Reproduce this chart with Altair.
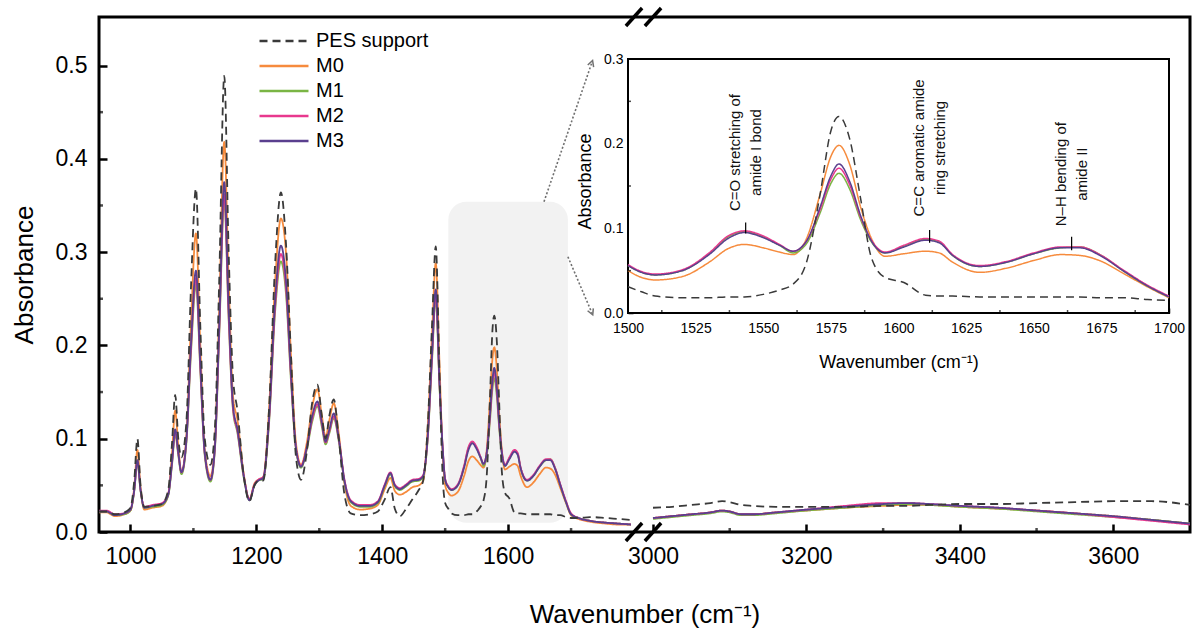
import altair as alt
import pandas as pd

FONT = "Liberation Sans"

SERIES = ["PES support", "M0", "M1", "M2", "M3"]
SERIES_COLORS = ["#3a3a3a", "#f68b3d", "#7ab544", "#e8388e", "#5a3f8e"]
SERIES_DASH = [[8, 5], [1, 0], [1, 0], [1, 0], [1, 0]]
DRAW_ORDER = ["M0", "M1", "M2", "M3", "PES support"]

# ---- left panel (950-1800 cm-1) ----
L_WN = [950, 962, 975, 990, 1000, 1006, 1011, 1016, 1022, 1035,
        1050, 1060, 1066, 1071, 1076, 1081, 1089, 1096, 1104, 1111,
        1118, 1127, 1134, 1141, 1149, 1156, 1163, 1170, 1180, 1189,
        1197, 1203, 1211, 1220, 1230, 1239, 1247, 1255, 1263, 1271,
        1280, 1289, 1297, 1304, 1310, 1316, 1323, 1331, 1340, 1350,
        1365, 1380, 1393, 1404, 1413, 1420, 1428, 1438, 1448, 1458,
        1465, 1472, 1479, 1485, 1491, 1496, 1500, 1505, 1510, 1520,
        1530, 1537, 1543, 1550, 1556, 1561, 1566, 1571, 1575, 1578,
        1582, 1586, 1590, 1595, 1602, 1610, 1615, 1620, 1630, 1640,
        1650, 1660, 1667, 1675, 1683, 1692, 1700, 1712, 1730, 1755,
        1775, 1795]

M3_L = [0.022, 0.022, 0.018, 0.020, 0.024, 0.045, 0.077, 0.045, 0.026, 0.028,
        0.030, 0.040, 0.075, 0.110, 0.085, 0.064, 0.100, 0.200, 0.280, 0.180,
        0.085, 0.056, 0.090, 0.220, 0.375, 0.240, 0.135, 0.110, 0.060, 0.034,
        0.050, 0.055, 0.058, 0.120, 0.250, 0.307, 0.270, 0.170, 0.090, 0.070,
        0.090, 0.125, 0.140, 0.118, 0.097, 0.110, 0.127, 0.100, 0.055, 0.033,
        0.028, 0.028, 0.032, 0.050, 0.063, 0.050, 0.046, 0.050, 0.055, 0.056,
        0.060, 0.100, 0.190, 0.260, 0.160, 0.090, 0.056, 0.048, 0.045, 0.050,
        0.069, 0.088, 0.095, 0.089, 0.080, 0.073, 0.085, 0.125, 0.162, 0.176,
        0.155, 0.115, 0.085, 0.071, 0.078, 0.086, 0.083, 0.068, 0.055, 0.060,
        0.070, 0.077, 0.077, 0.067, 0.050, 0.032, 0.019, 0.015, 0.012, 0.010,
        0.009, 0.008]

M2_L = [0.023, 0.023, 0.019, 0.020, 0.024, 0.045, 0.076, 0.045, 0.027, 0.029,
        0.031, 0.041, 0.074, 0.108, 0.084, 0.064, 0.100, 0.195, 0.272, 0.176,
        0.084, 0.056, 0.089, 0.215, 0.362, 0.232, 0.132, 0.108, 0.060, 0.035,
        0.051, 0.056, 0.059, 0.118, 0.243, 0.298, 0.262, 0.166, 0.090, 0.071,
        0.090, 0.122, 0.137, 0.116, 0.096, 0.108, 0.124, 0.099, 0.056, 0.034,
        0.029, 0.029, 0.033, 0.051, 0.064, 0.051, 0.047, 0.051, 0.056, 0.057,
        0.061, 0.099, 0.186, 0.255, 0.158, 0.091, 0.057, 0.049, 0.046, 0.051,
        0.071, 0.091, 0.097, 0.091, 0.081, 0.073, 0.085, 0.122, 0.158, 0.171,
        0.151, 0.113, 0.086, 0.072, 0.080, 0.088, 0.085, 0.069, 0.056, 0.061,
        0.071, 0.078, 0.078, 0.068, 0.051, 0.033, 0.020, 0.015, 0.012, 0.010,
        0.009, 0.008]

M1_L = [0.022, 0.022, 0.018, 0.019, 0.023, 0.044, 0.075, 0.044, 0.026, 0.027,
        0.029, 0.039, 0.072, 0.105, 0.082, 0.062, 0.097, 0.190, 0.265, 0.172,
        0.082, 0.054, 0.087, 0.210, 0.355, 0.228, 0.130, 0.106, 0.058, 0.034,
        0.050, 0.055, 0.057, 0.115, 0.238, 0.290, 0.256, 0.162, 0.088, 0.069,
        0.088, 0.119, 0.135, 0.113, 0.094, 0.106, 0.122, 0.097, 0.054, 0.032,
        0.027, 0.027, 0.031, 0.049, 0.062, 0.049, 0.045, 0.049, 0.054, 0.055,
        0.059, 0.097, 0.182, 0.250, 0.155, 0.088, 0.056, 0.048, 0.045, 0.050,
        0.070, 0.090, 0.096, 0.090, 0.080, 0.071, 0.082, 0.118, 0.153, 0.165,
        0.146, 0.110, 0.084, 0.071, 0.079, 0.087, 0.084, 0.068, 0.055, 0.060,
        0.070, 0.077, 0.078, 0.068, 0.050, 0.032, 0.019, 0.015, 0.012, 0.010,
        0.009, 0.008]

M0_L = [0.021, 0.021, 0.017, 0.019, 0.023, 0.048, 0.088, 0.048, 0.024, 0.026,
        0.028, 0.040, 0.085, 0.130, 0.092, 0.064, 0.105, 0.222, 0.320, 0.200,
        0.088, 0.060, 0.095, 0.240, 0.418, 0.270, 0.145, 0.120, 0.062, 0.035,
        0.052, 0.056, 0.059, 0.130, 0.270, 0.336, 0.300, 0.190, 0.095, 0.072,
        0.095, 0.135, 0.153, 0.125, 0.102, 0.120, 0.138, 0.105, 0.052, 0.028,
        0.024, 0.025, 0.029, 0.046, 0.058, 0.044, 0.040, 0.043, 0.048, 0.050,
        0.055, 0.110, 0.210, 0.288, 0.180, 0.085, 0.050, 0.042, 0.039, 0.043,
        0.060, 0.076, 0.081, 0.077, 0.072, 0.069, 0.088, 0.140, 0.185, 0.198,
        0.175, 0.125, 0.088, 0.067, 0.070, 0.073, 0.071, 0.060, 0.048, 0.053,
        0.062, 0.069, 0.068, 0.061, 0.047, 0.031, 0.018, 0.014, 0.011, 0.009,
        0.008, 0.008]

PES_L = [0.022, 0.022, 0.019, 0.021, 0.026, 0.055, 0.100, 0.050, 0.027, 0.028,
         0.030, 0.045, 0.095, 0.147, 0.100, 0.080, 0.120, 0.260, 0.368, 0.220,
         0.100, 0.072, 0.110, 0.270, 0.489, 0.300, 0.165, 0.130, 0.060, 0.033,
         0.050, 0.055, 0.055, 0.130, 0.290, 0.364, 0.310, 0.190, 0.080, 0.056,
         0.085, 0.140, 0.158, 0.125, 0.100, 0.125, 0.142, 0.100, 0.040, 0.020,
         0.018, 0.019, 0.022, 0.035, 0.048, 0.025, 0.017, 0.025, 0.035, 0.045,
         0.055, 0.110, 0.220, 0.306, 0.170, 0.060, 0.031, 0.025, 0.020, 0.018,
         0.018, 0.019, 0.019, 0.022, 0.027, 0.034, 0.060, 0.140, 0.215, 0.232,
         0.205, 0.135, 0.065, 0.042, 0.036, 0.021, 0.020, 0.020, 0.019, 0.019,
         0.019, 0.019, 0.019, 0.018, 0.018, 0.016, 0.015, 0.015, 0.016, 0.015,
         0.014, 0.013]

# ---- right panel (3000-3700 cm-1) ----
R_WN = [3000, 3025, 3050, 3075, 3090, 3100, 3115, 3130, 3160, 3200,
        3250, 3300, 3330, 3360, 3400, 3450, 3500, 3550, 3600, 3650, 3700]
M3_R = [0.015, 0.017, 0.019, 0.021, 0.023, 0.022, 0.019, 0.019, 0.021, 0.024,
        0.027, 0.030, 0.031, 0.030, 0.028, 0.026, 0.023, 0.020, 0.017, 0.013, 0.009]
M2_R = [0.015, 0.017, 0.019, 0.021, 0.023, 0.022, 0.019, 0.019, 0.021, 0.024,
        0.028, 0.031, 0.031, 0.030, 0.028, 0.026, 0.023, 0.020, 0.016, 0.012, 0.008]
M1_R = [0.014, 0.016, 0.018, 0.020, 0.022, 0.021, 0.018, 0.018, 0.020, 0.023,
        0.026, 0.029, 0.030, 0.029, 0.027, 0.025, 0.022, 0.019, 0.016, 0.013, 0.009]
M0_R = [0.015, 0.017, 0.019, 0.021, 0.023, 0.022, 0.019, 0.019, 0.021, 0.023,
        0.026, 0.028, 0.029, 0.029, 0.027, 0.025, 0.023, 0.020, 0.017, 0.013, 0.009]
PES_R = [0.026, 0.027, 0.029, 0.031, 0.033, 0.032, 0.029, 0.028, 0.027, 0.027,
         0.027, 0.028, 0.028, 0.029, 0.030, 0.030, 0.031, 0.032, 0.033, 0.033, 0.029]

LEFT = {"PES support": PES_L, "M0": M0_L, "M1": M1_L, "M2": M2_L, "M3": M3_L}
RIGHT = {"PES support": PES_R, "M0": M0_R, "M1": M1_R, "M2": M2_R, "M3": M3_R}

# axis ticks
MAIN_X_TICKS = [1000, 1200, 1400, 1600, 3000, 3200, 3400, 3600]
MAIN_X_MINOR = [1100, 1300, 1500, 1700, 3100, 3300, 3500]
MAIN_Y_TICKS = [0.0, 0.1, 0.2, 0.3, 0.4, 0.5]
MAIN_Y_MINOR = [0.05, 0.15, 0.25, 0.35, 0.45]
INSET_X_TICKS = [1500, 1525, 1550, 1575, 1600, 1625, 1650, 1675, 1700]
INSET_X_MINOR = [1512.5, 1537.5, 1562.5, 1587.5, 1612.5, 1637.5, 1662.5, 1687.5]
INSET_Y_TICKS = [0.0, 0.1, 0.2, 0.3]
INSET_Y_MINOR = [0.05, 0.15, 0.25]

# highlighted region, axis break positions, zoom arrows
HIGHLIGHT = [1505, 1695, 0.010, 0.354]
BREAK_X = [1800, 3000]
ARROW_X0 = [1657, 1695]
ARROW_Y0 = [0.354, 0.295]
ARROW_X1 = [1733, 1733]
ARROW_Y1 = [0.503, 0.235]
ARROW_ANGLE = [19, 157]

# inset annotations
ANN_X = [1543.5, 1611.5, 1664.0]
ANN_TEXT = ["C=O stretching of\namide I bond",
            "C=C aromatic amide\nring stretching",
            "N\u2013H bending of\namide II"]
ANN_TEXT_Y = [0.1895, 0.195, 0.164]
ANN_TICK_Y0 = [0.094, 0.083, 0.074]
ANN_TICK_Y1 = [0.107, 0.098, 0.090]

Y_TOP = 0.552
W, H = 1091, 515
ANN_LINE_H = 21

for d in LEFT.values():
    assert len(d) == len(L_WN)
for d in RIGHT.values():
    assert len(d) == len(R_WN)

rows = []
for seg, wn, table in (("left", L_WN, LEFT), ("right", R_WN, RIGHT)):
    for name in DRAW_ORDER:
        for w, a in zip(wn, table[name]):
            rows.append({"wn": w, "absb": a, "series": name, "seg": seg})
spec_df = pd.DataFrame(rows)

# ---------------- scales & axes ----------------
xs = alt.Scale(domain=[950, 1800, 3000, 3700], range=[0, 535, 554, W], nice=False, zero=False)
ys = alt.Scale(domain=[0, Y_TOP], nice=False, zero=False)
xi = alt.Scale(domain=[1500, 1700], range=[529, 1070], nice=False, zero=False)
yi = alt.Scale(domain=[0, 0.3], range=[296, 42], nice=False, zero=False)

color_scale = alt.Scale(domain=SERIES, range=SERIES_COLORS)
dash_scale = alt.Scale(domain=SERIES, range=SERIES_DASH)

x_axis_main = alt.Axis(values=MAIN_X_TICKS, format="d", orient="bottom", offset=-8,
                       tickSize=8, tickWidth=2.5, tickColor="black", domain=False, grid=False,
                       labelFontSize=23, labelPadding=13, labelFlush=False, labelOverlap=False,
                       title="Wavenumber (cm\u207b\u00b9)", titleFontSize=26,
                       titleBaseline="alphabetic", titleY=98)
y_axis_main = alt.Axis(values=MAIN_Y_TICKS, format=".1f", orient="left", offset=-8,
                       tickSize=8, tickWidth=2.5, tickColor="black", domain=False, grid=False,
                       labelFontSize=23, labelPadding=12, labelFlush=False, labelOverlap=False,
                       title="Absorbance", titleFontSize=26, titleAngle=270,
                       titleBaseline="alphabetic", titleAlign="center", titleX=-75, titleY=H / 2)
x_axis_in = alt.Axis(values=INSET_X_TICKS, format="d", orient="bottom", offset=-(H - 296) - 5,
                     tickSize=5, tickWidth=1.5, tickColor="black", domain=False, grid=False,
                     labelFontSize=14, labelPadding=8, labelFlush=False, labelOverlap=False,
                     title="Wavenumber (cm\u207b\u00b9)", titleFontSize=18,
                     titleBaseline="alphabetic", titleY=59)
y_axis_in = alt.Axis(values=INSET_Y_TICKS, format=".1f", orient="left", offset=-529 - 5,
                     tickSize=5, tickWidth=1.5, tickColor="black", domain=False, grid=False,
                     labelFontSize=14, labelPadding=5, labelFlush=False, labelOverlap=False,
                     title="Absorbance", titleFontSize=18, titleAngle=270,
                     titleBaseline="alphabetic", titleAlign="center", titleX=-43, titleY=164)

legend = alt.Legend(orient="none", legendX=159, legendY=11.5, title=None,
                    symbolType="stroke", symbolSize=2400, symbolStrokeWidth=2.5,
                    clipHeight=25, rowPadding=0, labelFontSize=20, labelOffset=6,
                    labelFont=FONT, labelColor="black", padding=0)


def MX(field):
    return alt.X(field, type="quantitative", scale=xs, axis=x_axis_main)


def MY(field):
    return alt.Y(field, type="quantitative", scale=ys, axis=y_axis_main)


def IX(field):
    return alt.X(field, type="quantitative", scale=xi, axis=x_axis_in)


def IY(field):
    return alt.Y(field, type="quantitative", scale=yi, axis=y_axis_in)


# ---------------- main panel ----------------
hl_df = pd.DataFrame({"x0": [HIGHLIGHT[0]], "x1": [HIGHLIGHT[1]],
                      "y0": [HIGHLIGHT[2]], "y1": [HIGHLIGHT[3]]})
hl = alt.Chart(hl_df).mark_rect(color="#f2f2f2", cornerRadius=18).encode(
    x=MX("x0"), x2="x1", y=MY("y0"), y2="y1")

lines = alt.Chart(spec_df).mark_line(strokeWidth=1.8, interpolate="monotone").encode(
    x=MX("wn"), y=MY("absb"),
    color=alt.Color("series:N", scale=color_scale, legend=legend),
    strokeDash=alt.StrokeDash("series:N", scale=dash_scale, legend=legend),
    detail="seg:N")

xminor_df = pd.DataFrame({"v": MAIN_X_MINOR, "z": [0.0] * len(MAIN_X_MINOR)})
xminor = alt.Chart(xminor_df).mark_tick(orient="vertical", size=4, thickness=2.5,
                                        color="black", yOffset=-2).encode(x=MX("v"), y=MY("z"))
yminor_df = pd.DataFrame({"v": MAIN_Y_MINOR, "z": [950] * len(MAIN_Y_MINOR)})
yminor = alt.Chart(yminor_df).mark_tick(orient="horizontal", size=4, thickness=2.5,
                                        color="black", xOffset=2).encode(x=MX("z"), y=MY("v"))

brk_df = pd.DataFrame({"bx": BREAK_X * 2, "by": [0.0, 0.0, Y_TOP, Y_TOP]})
breaks = alt.Chart(brk_df).mark_point(shape="M-0.9,1L0.9,-1", size=324, filled=False,
                                      strokeWidth=3.5, color="black", opacity=1).encode(
    x=MX("bx"), y=MY("by"))

arr_df = pd.DataFrame({"x0": ARROW_X0, "y0": ARROW_Y0, "x1": ARROW_X1, "y1": ARROW_Y1,
                       "ang": ARROW_ANGLE})
arrow_lines = alt.Chart(arr_df).mark_rule(color="#707070", strokeWidth=1.6,
                                          strokeDash=[2, 2]).encode(
    x=MX("x0"), y=MY("y0"), x2="x1", y2="y1")
arrow_heads = alt.Chart(arr_df).mark_point(shape="M-0.8,0.9L0,-0.6L0.8,0.9", size=60,
                                           filled=False, strokeWidth=1.5, color="#707070",
                                           opacity=1).encode(
    x=MX("x1"), y=MY("y1"), angle=alt.Angle("ang:Q", scale=None))

main = alt.layer(hl, lines, xminor, yminor, breaks, arrow_lines, arrow_heads)

# ---------------- inset ----------------
frame_df = pd.DataFrame({"x0": [1500], "x1": [1700], "y0": [0.0], "y1": [0.3]})
frame = alt.Chart(frame_df).mark_rect(fill="white", stroke="black", strokeWidth=2).encode(
    x=IX("x0"), x2="x1", y=IY("y0"), y2="y1")

inset_lines = alt.Chart(spec_df).transform_filter(
    (alt.datum.wn >= 1500) & (alt.datum.wn <= 1700)
).mark_line(strokeWidth=1.5, interpolate="monotone").encode(
    x=IX("wn"), y=IY("absb"),
    color=alt.Color("series:N", scale=color_scale, legend=None),
    strokeDash=alt.StrokeDash("series:N", scale=dash_scale, legend=None),
    detail="seg:N")

ann_df = pd.DataFrame({"ax": ANN_X, "txt": ANN_TEXT, "ty": ANN_TEXT_Y,
                       "t0": ANN_TICK_Y0, "t1": ANN_TICK_Y1})
ann_ticks = alt.Chart(ann_df).mark_rule(color="black", strokeWidth=1.2).encode(
    x=IX("ax"), y=IY("t0"), y2="t1")
ann_text = alt.Chart(ann_df).mark_text(angle=270, fontSize=15, lineHeight=ANN_LINE_H,
                                       align="center", baseline="middle", lineBreak="\n",
                                       color="#111111", font=FONT,
                                       xOffset=-ANN_LINE_H / 2).encode(
    x=IX("ax"), y=IY("ty"), text="txt:N")

ixm_df = pd.DataFrame({"v": INSET_X_MINOR, "z": [0.0] * len(INSET_X_MINOR)})
ixminor = alt.Chart(ixm_df).mark_tick(orient="vertical", size=3, thickness=1.5,
                                      color="black", yOffset=-1.5).encode(x=IX("v"), y=IY("z"))
iym_df = pd.DataFrame({"v": INSET_Y_MINOR, "z": [1500] * len(INSET_Y_MINOR)})
iyminor = alt.Chart(iym_df).mark_tick(orient="horizontal", size=3, thickness=1.5,
                                      color="black", xOffset=1.5).encode(x=IX("z"), y=IY("v"))

inset = alt.layer(frame, inset_lines, ann_ticks, ann_text, ixminor, iyminor)

chart = alt.layer(main, inset).resolve_scale(
    x="independent", y="independent"
).properties(
    width=W, height=H, autosize=alt.AutoSizeParams(type="none"),
    padding={"left": 99, "top": 17, "right": 1192 - 99 - W, "bottom": 628 - 17 - H},
    background="white"
).configure_view(
    stroke="black", strokeWidth=3
).configure_axis(
    labelFont=FONT, titleFont=FONT, labelColor="black", titleColor="black",
    titleFontWeight="normal"
).configure_text(font=FONT)

chart.save("out.html", embed_options={"renderer": "svg", "actions": False})
